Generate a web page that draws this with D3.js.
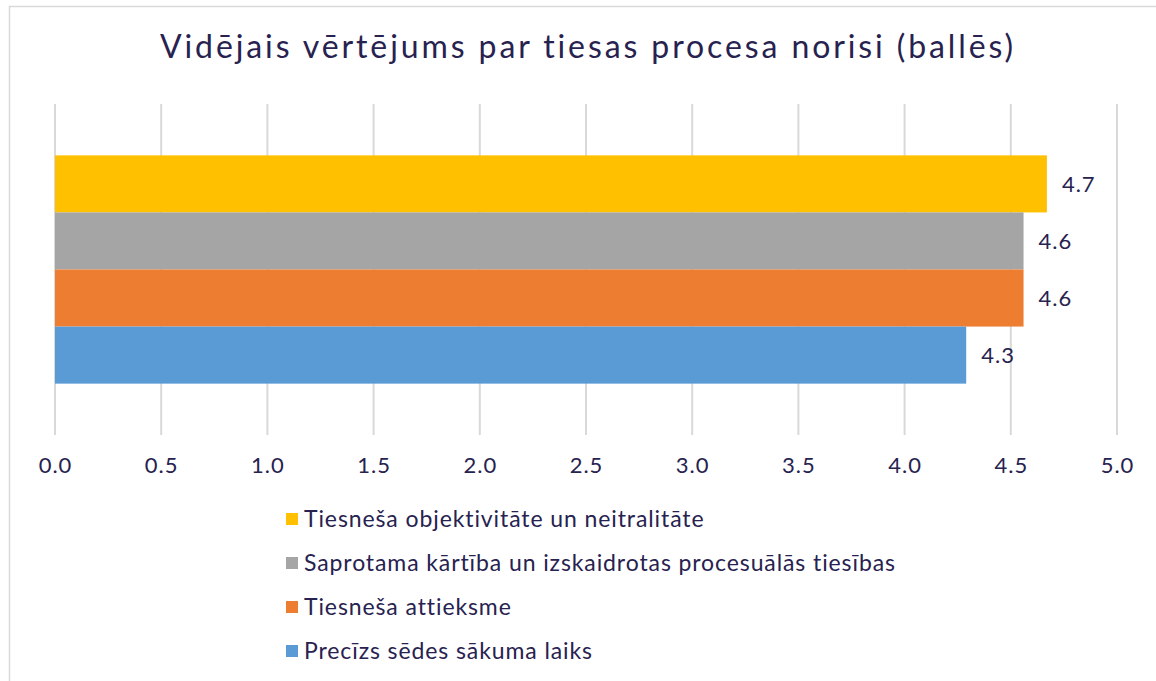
<!DOCTYPE html>
<html>
<head>
<meta charset="utf-8">
<script src="https://cdn.jsdelivr.net/npm/d3@7"></script>
<style>
  body { margin: 0; background: #fff; }
  svg { display: block; }
  text { font-family: Lato, "Open Sans", sans-serif; fill: #27224f; }
</style>
</head>
<body>
<svg id="chart"></svg>
<script>
var width = 1156;
var height = 681;

var title = "Vidējais vērtējums par tiesas procesa norisi (ballēs)";
var seriesNames = [
  "Tiesneša objektivitāte un neitralitāte",
  "Saprotama kārtība un izskaidrotas procesuālās tiesības",
  "Tiesneša attieksme",
  "Precīzs sēdes sākuma laiks"
];
var seriesValues = [4.67, 4.56, 4.56, 4.29];
var seriesColors = ["#ffc000", "#a5a5a5", "#ed7d31", "#5b9bd5"];
var tickValues = [0, 0.5, 1, 1.5, 2, 2.5, 3, 3.5, 4, 4.5, 5];

var plotTop = 104, plotBottom = 435;

var xScale = d3.scaleLinear()
                .domain([0, 5])
                .range([55, 1117]);

var yScale = d3.scaleBand()
                .domain(seriesNames)
                .range([plotTop, plotBottom])
                .paddingInner(0)
                .paddingOuter(0.9);

var svg = d3.select("#chart")
            .attr("width", width)
            .attr("height", height);

// chart frame (right and bottom edges fall outside the picture)
svg.append("rect")
    .attr("x", 9.5)
    .attr("y", 6.5)
    .attr("width", 1200)
    .attr("height", 700)
    .attr("fill", "#fff")
    .attr("stroke", "#d9d9d9")
    .attr("stroke-width", 1.5);

svg.append("text")
    .attr("x", 588)
    .attr("y", 58)
    .attr("text-anchor", "middle")
    .attr("font-size", 32)
    .attr("letter-spacing", 2.9)
    .text(title);

// gridlines
svg.selectAll(".grid")
    .data(tickValues)
    .enter()
    .append("line")
      .classed("grid", true)
      .attr("x1", d => xScale(d))
      .attr("x2", d => xScale(d))
      .attr("y1", plotTop)
      .attr("y2", plotBottom)
      .attr("stroke", "#d9d9d9")
      .attr("stroke-width", 2);

// tick labels
var xAxis = d3.axisBottom(xScale)
                .tickValues(tickValues)
                .tickSize(0)
                .tickPadding(0)
                .tickFormat(d3.format(".1f"));

var axisG = svg.append("g")
    .attr("transform", "translate(0," + 473 + ")")
    .call(xAxis);
axisG.select(".domain").remove();
axisG.selectAll("text")
    .attr("dy", 0)
    .attr("font-size", 22)
    .attr("letter-spacing", 1)
    .attr("font-family", null)
    .attr("fill", "#27224f");

var bars = svg.selectAll(".bar")
    .data(seriesNames)
    .enter()
    .append("g")
      .classed("bar", true);

bars.append("rect")
    .attr("x", xScale(0))
    .attr("y", d => yScale(d))
    .attr("width", (d, i) => xScale(seriesValues[i]) - xScale(0))
    .attr("height", yScale.bandwidth())
    .attr("fill", (d, i) => seriesColors[i]);

bars.append("text")
    .attr("x", (d, i) => xScale(seriesValues[i]) + 15)
    .attr("y", d => yScale(d) + yScale.bandwidth() / 2 + 8)
    .attr("font-size", 22)
    .attr("letter-spacing", 1)
    .text((d, i) => seriesValues[i].toFixed(1));

// legend
var legend = svg.selectAll(".legend")
    .data(seriesNames)
    .enter()
    .append("g")
      .classed("legend", true)
      .attr("transform", (d, i) => "translate(286," + (519 + i * 44) + ")");

legend.append("rect")
    .attr("x", 0)
    .attr("y", -6)
    .attr("width", 12)
    .attr("height", 12)
    .attr("fill", (d, i) => seriesColors[i]);

legend.append("text")
    .attr("x", 18)
    .attr("y", 8)
    .attr("font-size", 23)
    .attr("letter-spacing", 0.9)
    .text(d => d);
</script>
</body>
</html>
